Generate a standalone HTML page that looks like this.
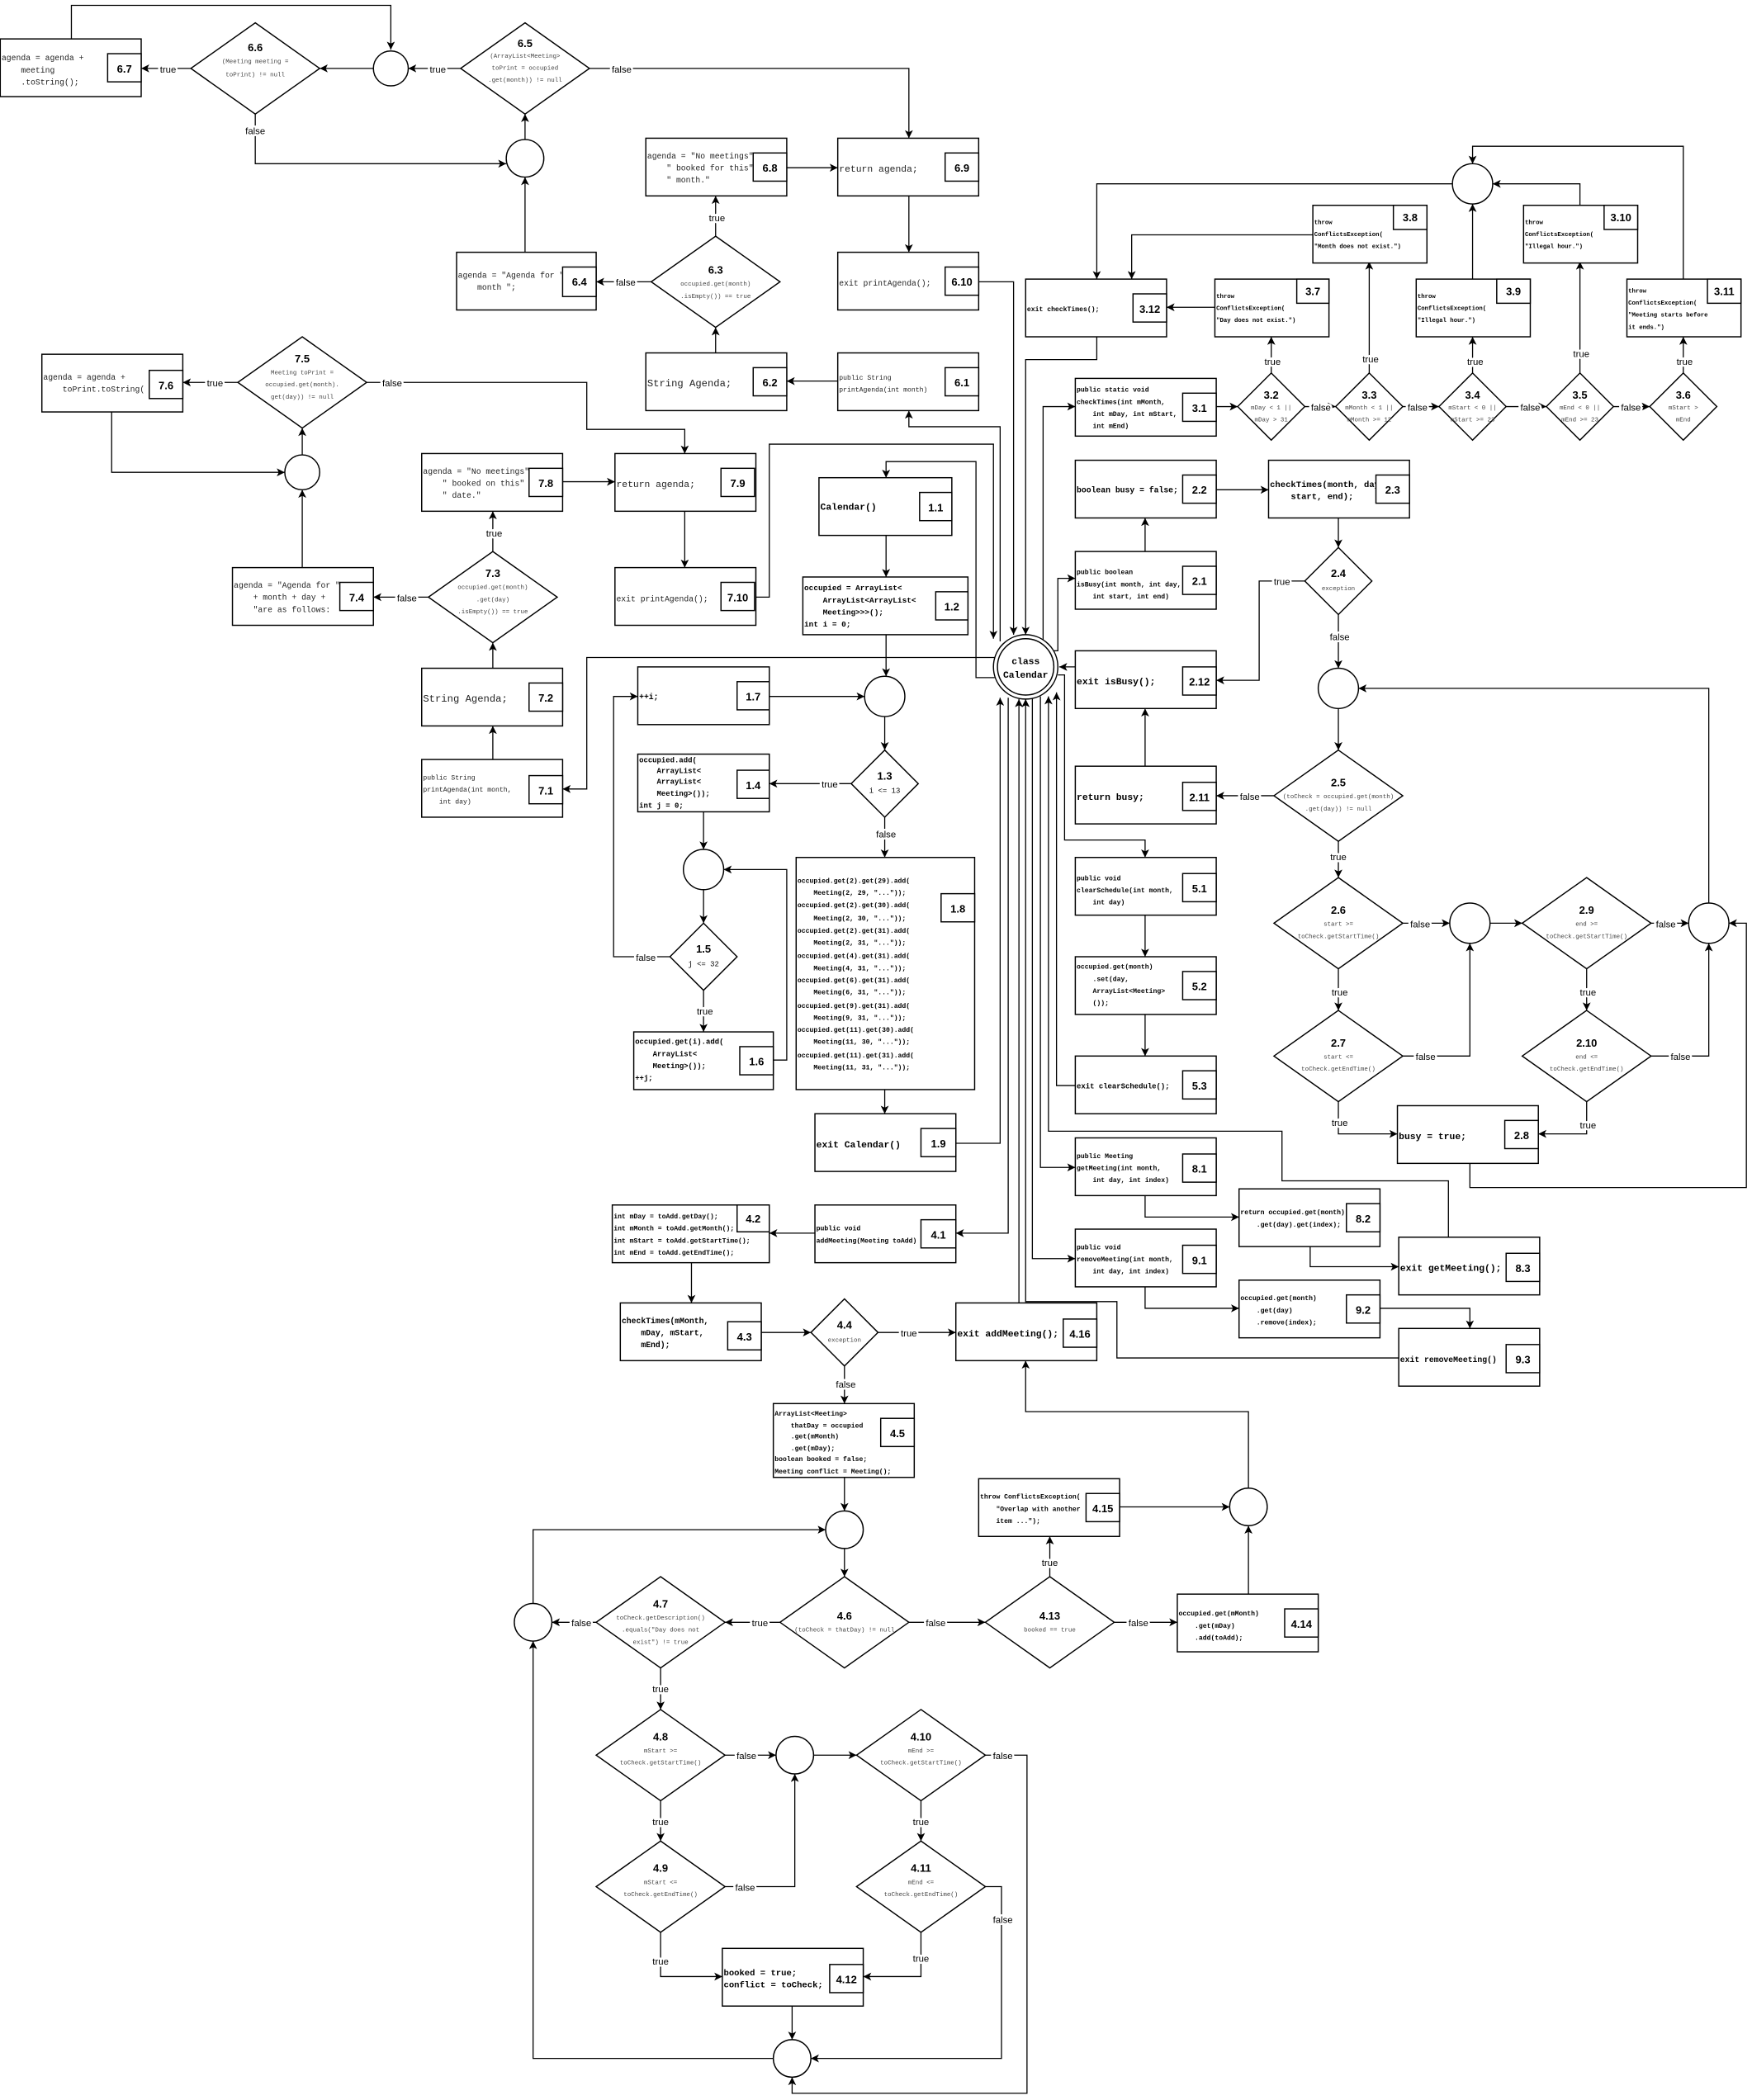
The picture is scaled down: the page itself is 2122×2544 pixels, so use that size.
<!DOCTYPE html>
<html><head><meta charset="utf-8"><style>
html,body{margin:0;padding:0;background:#fff}
svg{display:block}
text{white-space:pre}
.b{fill:#fff;stroke:#000;stroke-width:0.9}
.e{fill:none;stroke:#000;stroke-width:0.8;marker-end:url(#a)}
.n{fill:none;stroke:#000;stroke-width:0.8}
.c{font-family:"Liberation Mono",monospace;font-size:6px;fill:#222}
.cb{font-family:"Liberation Mono",monospace;font-size:5px;font-weight:bold;fill:#000}
.cB{font-family:"Liberation Mono",monospace;font-size:7px;font-weight:bold;fill:#000}
.l{font-family:"Liberation Sans",sans-serif;font-size:8px;font-weight:bold;text-anchor:middle}
.d{font-family:"Liberation Mono",monospace;font-size:4.6px;fill:#444;text-anchor:middle}
.t{font-family:"Liberation Sans",sans-serif;font-size:7px;text-anchor:middle;stroke:#fff;stroke-width:3;paint-order:stroke;fill:#000}
</style></head><body>
<svg width="2122" height="2544" viewBox="0 0 1305 1565" xmlns="http://www.w3.org/2000/svg" xml:space="preserve">
<defs><marker id="a" markerWidth="6" markerHeight="6" refX="6" refY="3" orient="auto" markerUnits="userSpaceOnUse"><path d="M0,0 L6,3 L0,6 L1.5,3z" fill="#000"/></marker></defs>
<rect width="1305" height="1565" fill="#fff"/>

<!-- section 6 -->
<path class="e" d="M53,29 V4 H291 V37"/>
<path class="e" d="M278,51 H238"/>
<path class="e" d="M343,51 H304"/>
<path class="e" d="M142,51 H105"/>
<path class="e" d="M190,85 V122 H377"/>
<path class="e" d="M391,188 V132"/>
<path class="e" d="M391,104 V85"/>
<path class="e" d="M439,51 H677 V103"/>
<path class="e" d="M586,125 H624"/>
<path class="e" d="M677,146 V188"/>
<path class="e" d="M533,176 V146"/>
<path class="e" d="M485,210 H444"/>
<path class="e" d="M533,263 V244"/>
<path class="e" d="M624,284 H586"/>
<path class="e" d="M745,478 V318 H677 V306"/>
<path class="e" d="M729,210 H755 V473"/>
<!-- section 7 -->
<path class="e" d="M177,285 H136"/>
<path class="e" d="M83,307 V352 H212"/>
<path class="e" d="M225,339 V319"/>
<path class="e" d="M273,285 H437 V320 H510 V338"/>
<path class="e" d="M225,423 V365"/>
<path class="e" d="M419,359 H458"/>
<path class="e" d="M510,381 V423"/>
<path class="e" d="M367,411 V381"/>
<path class="e" d="M319,445 H278"/>
<path class="e" d="M367,498 V479"/>
<path class="e" d="M367,566 V541"/>
<path class="e" d="M563,445 H573 V331 H740 V476"/>
<path class="e" d="M741,490 H437 V588 H419"/>
<!-- section 1 -->
<path class="e" d="M741,505 H727 V344 H660 V356"/>
<path class="e" d="M660,399 V430"/>
<path class="e" d="M660,473 V504"/>
<path class="e" d="M573,519 H644"/>
<path class="e" d="M659,534 V559"/>
<path class="e" d="M634,584 H573"/>
<path class="e" d="M524,605 V633"/>
<path class="e" d="M524,663 V688"/>
<path class="e" d="M499,713 H457 V519 H475"/>
<path class="e" d="M524,738 V769"/>
<path class="e" d="M576,790 H586 V648 H539"/>
<path class="e" d="M659,609 V639"/>
<path class="e" d="M659,812 V830"/>
<path class="e" d="M712,852 H745 V520"/>
<!-- section 4 -->
<path class="e" d="M751,520 V919 H712"/>
<path class="e" d="M607,919 H573"/>
<path class="e" d="M515,941 V971"/>
<path class="e" d="M567,993 H604"/>
<path class="e" d="M654,993 H712"/>
<path class="e" d="M759,971 V521"/>
<path class="e" d="M629,1018 V1046"/>
<path class="e" d="M629,1101 V1126"/>
<path class="e" d="M629,1154 V1175"/>
<path class="e" d="M581,1209 H540"/>
<path class="e" d="M444,1209 H411"/>
<path class="e" d="M397,1195 V1140 H615"/>
<path class="e" d="M492,1243 V1274"/>
<path class="e" d="M540,1308 H578"/>
<path class="e" d="M606,1308 H638"/>
<path class="e" d="M734,1308 H765 V1560 H590 V1548"/>
<path class="e" d="M492,1342 V1372"/>
<path class="e" d="M540,1406 H592 V1322"/>
<path class="e" d="M492,1440 V1473 H538"/>
<path class="e" d="M686,1342 V1372"/>
<path class="e" d="M686,1440 V1473 H643"/>
<path class="e" d="M734,1406 H746 V1534 H604"/>
<path class="e" d="M590,1495 V1520"/>
<path class="e" d="M576,1534 H397 V1223"/>
<path class="e" d="M677,1209 H734"/>
<path class="e" d="M782,1175 V1145"/>
<path class="e" d="M830,1209 H877"/>
<path class="e" d="M930,1188 V1137"/>
<path class="e" d="M834,1123 H916"/>
<path class="e" d="M930,1109 V1052 H764 V1014"/>
<!-- section 2 -->
<path class="e" d="M853,411 V386"/>
<path class="e" d="M906,365 H945"/>
<path class="e" d="M997,386 V408"/>
<path class="e" d="M972,433 H938 V507 H906"/>
<path class="e" d="M997,458 V498"/>
<path class="e" d="M997,528 V559"/>
<path class="e" d="M949,593 H906"/>
<path class="e" d="M853,571 V528"/>
<path class="e" d="M801,497 H789"/>
<path class="e" d="M997,627 V654"/>
<path class="e" d="M1045,688 H1080"/>
<path class="e" d="M1110,688 H1134"/>
<path class="e" d="M1230,688 H1258"/>
<path class="e" d="M1273,673 V513 H1012"/>
<path class="e" d="M997,722 V753"/>
<path class="e" d="M1045,787 H1095 V703"/>
<path class="e" d="M997,821 V845 H1041"/>
<path class="e" d="M1182,722 V753"/>
<path class="e" d="M1230,787 H1273 V703"/>
<path class="e" d="M1182,821 V845 H1146"/>
<path class="e" d="M1095,867 V885 H1301 V688 H1288"/>
<path class="e" d="M785,485 H788 V431 H801"/>
<!-- section 3 -->
<path class="e" d="M777,478 V303 H801"/>
<path class="e" d="M906,303 H922"/>
<path class="e" d="M972,303 H995"/>
<path class="e" d="M1045,303 H1072"/>
<path class="e" d="M1122,303 H1152"/>
<path class="e" d="M1202,303 H1229"/>
<path class="e" d="M947,278 V251"/>
<path class="e" d="M1020,278 V195"/>
<path class="e" d="M1097,278 V251"/>
<path class="e" d="M1177,278 V195"/>
<path class="e" d="M1254,278 V251"/>
<path class="e" d="M905,229 H869"/>
<path class="e" d="M978,175 H843 V208"/>
<path class="e" d="M1097,208 V152"/>
<path class="e" d="M1177,153 V137 H1112"/>
<path class="e" d="M1254,208 V109 H1097 V122"/>
<path class="e" d="M1082,137 H817 V208"/>
<path class="e" d="M817,251 V268 H764 V473"/>
<!-- section 5 -->
<path class="e" d="M788,503 H793 V626 H853 V639"/>
<path class="e" d="M853,682 V713"/>
<path class="e" d="M853,756 V787"/>
<path class="e" d="M801,809 H787 V516"/>
<!-- section 8 -->
<path class="e" d="M775,519 V870 H801"/>
<path class="e" d="M853,891 V907 H923"/>
<path class="e" d="M976,929 V944 H1042"/>
<path class="e" d="M1079,922 V880 H955 V843 H781 V519"/>
<!-- section 9 -->
<path class="e" d="M769,520 V938 H801"/>
<path class="e" d="M853,959 V975 H923"/>
<path class="e" d="M1028,975 H1095 V990"/>
<path class="e" d="M1042,1012 H832 V970 H764 V521"/>

<!-- class Calendar -->
<circle cx="764" cy="497" r="24" class="b"/><circle cx="764" cy="497" r="21" class="b"/>
<text class="cB" x="764" y="495" text-anchor="middle">class</text>
<text class="cB" x="764" y="505" text-anchor="middle">Calendar</text>

<circle cx="291" cy="51" r="13" class="b"/>
<circle cx="391" cy="118" r="14" class="b"/>
<circle cx="225" cy="352" r="13" class="b"/>
<circle cx="659" cy="519" r="15" class="b"/>
<circle cx="524" cy="648" r="15" class="b"/>
<circle cx="629" cy="1140" r="14" class="b"/>
<circle cx="397" cy="1209" r="14" class="b"/>
<circle cx="592" cy="1308" r="14" class="b"/>
<circle cx="590" cy="1534" r="14" class="b"/>
<circle cx="930" cy="1123" r="14" class="b"/>
<circle cx="997" cy="513" r="15" class="b"/>
<circle cx="1095" cy="688" r="15" class="b"/>
<circle cx="1273" cy="688" r="15" class="b"/>
<circle cx="1097" cy="137" r="15" class="b"/>

<!-- 6.x -->
<rect class="b" x="0" y="29" width="105" height="43"/>
<text class="c" x="1" y="45">agenda = agenda +</text><text class="c" x="1" y="54">    meeting</text><text class="c" x="1" y="63">    .toString();</text>
<rect class="b" x="80" y="40" width="25" height="21"/><text class="l" x="92.5" y="54">6.7</text>

<polygon class="b" points="190,17 238,51 190,85 142,51"/>
<text class="l" x="190" y="38">6.6</text><text class="d" x="190" y="47">(Meeting meeting =</text><text class="d" x="190" y="57">toPrint) != null</text>

<polygon class="b" points="391,17 439,51 391,85 343,51"/>
<text class="l" x="391" y="35">6.5</text><text class="d" x="391" y="43">(ArrayList&lt;Meeting&gt;</text><text class="d" x="391" y="52">toPrint = occupied</text><text class="d" x="391" y="61">.get(month)) != null</text>

<rect class="b" x="340" y="188" width="104" height="43"/>
<text class="c" x="341" y="207">agenda = "Agenda for "</text><text class="c" x="341" y="216">    month ";</text>
<rect class="b" x="419" y="199" width="25" height="22"/><text class="l" x="431.5" y="213">6.4</text>

<rect class="b" x="481" y="103" width="105" height="43"/>
<text class="c" x="482" y="118">agenda = "No meetings"</text><text class="c" x="482" y="127">    " booked for this"</text><text class="c" x="482" y="136">    " month."</text>
<rect class="b" x="561" y="114" width="25" height="21"/><text class="l" x="573.5" y="128">6.8</text>

<rect class="b" x="624" y="103" width="105" height="43"/>
<text class="c" x="625" y="128" style="font-size:7px">return agenda;</text>
<rect class="b" x="704" y="114" width="25" height="21"/><text class="l" x="716.5" y="128">6.9</text>

<rect class="b" x="624" y="188" width="105" height="43"/>
<text class="c" x="625" y="213">exit printAgenda();</text>
<rect class="b" x="704" y="199" width="25" height="21"/><text class="l" x="716.5" y="213">6.10</text>

<polygon class="b" points="533,176 581,210 533,244 485,210"/>
<text class="l" x="533" y="204">6.3</text><text class="d" x="533" y="213">occupied.get(month)</text><text class="d" x="533" y="222">.isEmpty()) == true</text>

<rect class="b" x="481" y="263" width="105" height="43"/>
<text class="c" x="482" y="288" style="font-size:7.5px">String Agenda;</text>
<rect class="b" x="561" y="274" width="25" height="21"/><text class="l" x="573.5" y="288">6.2</text>

<rect class="b" x="624" y="263" width="105" height="43"/>
<text class="c" x="625" y="283" style="font-size:5px">public String</text><text class="c" x="625" y="292" style="font-size:5px">printAgenda(int month)</text>
<rect class="b" x="704" y="274" width="25" height="21"/><text class="l" x="716.5" y="288">6.1</text>

<!-- 7.x -->
<rect class="b" x="31" y="264" width="105" height="43"/>
<text class="c" x="32" y="283">agenda = agenda +</text><text class="c" x="32" y="292">    toPrint.toString(</text>
<rect class="b" x="111" y="276" width="25" height="21"/><text class="l" x="123.5" y="290">7.6</text>

<polygon class="b" points="225,251 273,285 225,319 177,285"/>
<text class="l" x="225" y="270">7.5</text><text class="d" x="225" y="279">Meeting toPrint =</text><text class="d" x="225" y="288">occupied.get(month).</text><text class="d" x="225" y="297">get(day)) != null</text>

<rect class="b" x="173" y="423" width="105" height="43"/>
<text class="c" x="174" y="438">agenda = "Agenda for "</text><text class="c" x="174" y="447">    + month + day +</text><text class="c" x="174" y="456">    "are as follows:</text>
<rect class="b" x="253" y="434" width="25" height="21"/><text class="l" x="265.5" y="448">7.4</text>

<rect class="b" x="314" y="338" width="105" height="43"/>
<text class="c" x="315" y="353">agenda = "No meetings"</text><text class="c" x="315" y="362">    " booked on this"</text><text class="c" x="315" y="371">    " date."</text>
<rect class="b" x="394" y="349" width="25" height="21"/><text class="l" x="406.5" y="363">7.8</text>

<rect class="b" x="458" y="338" width="105" height="43"/>
<text class="c" x="459" y="363" style="font-size:7px">return agenda;</text>
<rect class="b" x="537" y="349" width="25" height="21"/><text class="l" x="549.5" y="363">7.9</text>

<rect class="b" x="458" y="423" width="105" height="43"/>
<text class="c" x="459" y="448">exit printAgenda();</text>
<rect class="b" x="537" y="434" width="25" height="21"/><text class="l" x="549.5" y="448">7.10</text>

<polygon class="b" points="367,411 415,445 367,479 319,445"/>
<text class="l" x="367" y="430">7.3</text><text class="d" x="367" y="439">occupied.get(month)</text><text class="d" x="367" y="448">.get(day)</text><text class="d" x="367" y="457">.isEmpty()) == true</text>

<rect class="b" x="314" y="498" width="105" height="43"/>
<text class="c" x="315" y="523" style="font-size:7.5px">String Agenda;</text>
<rect class="b" x="394" y="509" width="25" height="21"/><text class="l" x="406.5" y="523">7.2</text>

<rect class="b" x="314" y="566" width="105" height="43"/>
<text class="c" x="315" y="581" style="font-size:5px">public String</text><text class="c" x="315" y="590" style="font-size:5px">printAgenda(int month,</text><text class="c" x="315" y="599" style="font-size:5px">    int day)</text>
<rect class="b" x="394" y="578" width="25" height="21"/><text class="l" x="406.5" y="592">7.1</text>

<!-- 1.x -->
<rect class="b" x="610" y="356" width="99" height="43"/>
<text class="cB" x="611" y="380">Calendar()</text>
<rect class="b" x="685" y="367" width="24" height="21"/><text class="l" x="697" y="381">1.1</text>

<rect class="b" x="598" y="430" width="123" height="43"/>
<text class="cb" x="599" y="440" style="font-size:5.8px">occupied = ArrayList&lt;</text><text class="cb" x="599" y="449" style="font-size:5.8px">    ArrayList&lt;ArrayList&lt;</text><text class="cb" x="599" y="458" style="font-size:5.8px">    Meeting&gt;&gt;&gt;();</text><text class="cb" x="599" y="467" style="font-size:5.8px">int i = 0;</text>
<rect class="b" x="697" y="441" width="24" height="21"/><text class="l" x="709" y="455">1.2</text>

<rect class="b" x="475" y="497" width="98" height="43"/>
<text class="cb" x="476" y="521" style="font-size:6px">++i;</text>
<rect class="b" x="549" y="508" width="24" height="21"/><text class="l" x="561" y="522">1.7</text>

<polygon class="b" points="659,559 684,584 659,609 634,584"/>
<text class="l" x="659" y="581">1.3</text><text class="d" x="659" y="591" style="font-size:5.5px;fill:#000">i &lt;= 13</text>

<rect class="b" x="475" y="562" width="98" height="43"/>
<text class="cb" x="476" y="568" style="font-size:5.5px">occupied.add(</text><text class="cb" x="476" y="576" style="font-size:5.5px">    ArrayList&lt;</text><text class="cb" x="476" y="584" style="font-size:5.5px">    ArrayList&lt;</text><text class="cb" x="476" y="593" style="font-size:5.5px">    Meeting&gt;());</text><text class="cb" x="476" y="602" style="font-size:5.5px">int j = 0;</text>
<rect class="b" x="549" y="574" width="24" height="21"/><text class="l" x="561" y="588">1.4</text>

<polygon class="b" points="524,688 549,713 524,738 499,713"/>
<text class="l" x="524" y="710">1.5</text><text class="d" x="524" y="720" style="font-size:5.5px;fill:#000">j &lt;= 32</text>

<rect class="b" x="472" y="769" width="104" height="43"/>
<text class="cb" x="473" y="778" style="font-size:5.5px">occupied.get(i).add(</text><text class="cb" x="473" y="787" style="font-size:5.5px">    ArrayList&lt;</text><text class="cb" x="473" y="796" style="font-size:5.5px">    Meeting&gt;());</text><text class="cb" x="473" y="805" style="font-size:5.5px">++j;</text>
<rect class="b" x="551" y="780" width="25" height="21"/><text class="l" x="563.5" y="794">1.6</text>

<rect class="b" x="593" y="639" width="133" height="173"/>
<text class="cb" x="594" y="658">occupied.get(2).get(29).add(</text>
<text class="cb" x="594" y="667">    Meeting(2, 29, "..."));</text>
<text class="cb" x="594" y="676">occupied.get(2).get(30).add(</text>
<text class="cb" x="594" y="686">    Meeting(2, 30, "..."));</text>
<text class="cb" x="594" y="695">occupied.get(2).get(31).add(</text>
<text class="cb" x="594" y="704">    Meeting(2, 31, "..."));</text>
<text class="cb" x="594" y="714">occupied.get(4).get(31).add(</text>
<text class="cb" x="594" y="723">    Meeting(4, 31, "..."));</text>
<text class="cb" x="594" y="732">occupied.get(6).get(31).add(</text>
<text class="cb" x="594" y="741">    Meeting(6, 31, "..."));</text>
<text class="cb" x="594" y="751">occupied.get(9).get(31).add(</text>
<text class="cb" x="594" y="760">    Meeting(9, 31, "..."));</text>
<text class="cb" x="594" y="769">occupied.get(11).get(30).add(</text>
<text class="cb" x="594" y="778">    Meeting(11, 30, "..."));</text>
<text class="cb" x="594" y="788">occupied.get(11).get(31).add(</text>
<text class="cb" x="594" y="797">    Meeting(11, 31, "..."));</text>
<rect class="b" x="701" y="666" width="25" height="21"/><text class="l" x="713.5" y="680">1.8</text>

<rect class="b" x="607" y="830" width="105" height="43"/>
<text class="cB" x="608" y="855">exit Calendar()</text>
<rect class="b" x="686" y="841" width="26" height="21"/><text class="l" x="699" y="855">1.9</text>

<!-- 4.x -->
<rect class="b" x="607" y="898" width="105" height="43"/>
<text class="cb" x="608" y="917">public void</text><text class="cb" x="608" y="926">addMeeting(Meeting toAdd)</text>
<rect class="b" x="686" y="909" width="26" height="21"/><text class="l" x="699" y="923">4.1</text>

<rect class="b" x="456" y="898" width="117" height="43"/>
<text class="cb" x="457" y="908">int mDay = toAdd.getDay();</text><text class="cb" x="457" y="917">int mMonth = toAdd.getMonth();</text><text class="cb" x="457" y="926">int mStart = toAdd.getStartTime();</text><text class="cb" x="457" y="935">int mEnd = toAdd.getEndTime();</text>
<rect class="b" x="549" y="898" width="24" height="20"/><text class="l" x="561" y="911">4.2</text>

<rect class="b" x="462" y="971" width="105" height="43"/>
<text class="cb" x="463" y="986" style="font-size:6px">checkTimes(mMonth,</text><text class="cb" x="463" y="995" style="font-size:6px">    mDay, mStart,</text><text class="cb" x="463" y="1004" style="font-size:6px">    mEnd);</text>
<rect class="b" x="542" y="985" width="25" height="21"/><text class="l" x="554.5" y="999">4.3</text>

<polygon class="b" points="629,968 654,993 629,1018 604,993"/>
<text class="l" x="629" y="990">4.4</text><text class="d" x="629" y="1000">exception</text>

<rect class="b" x="712" y="971" width="105" height="43"/>
<text class="cB" x="713" y="996">exit addMeeting();</text>
<rect class="b" x="792" y="983" width="25" height="21"/><text class="l" x="804.5" y="997">4.16</text>

<rect class="b" x="576" y="1046" width="105" height="55"/>
<text class="cb" x="577" y="1055">ArrayList&lt;Meeting&gt;</text><text class="cb" x="577" y="1064">    thatDay = occupied</text><text class="cb" x="577" y="1072">    .get(mMonth)</text><text class="cb" x="577" y="1081">    .get(mDay);</text><text class="cb" x="577" y="1089">boolean booked = false;</text><text class="cb" x="577" y="1098">Meeting conflict = Meeting();</text>
<rect class="b" x="656" y="1057" width="25" height="21"/><text class="l" x="668.5" y="1071">4.5</text>

<polygon class="b" points="629,1175 677,1209 629,1243 581,1209"/>
<text class="l" x="629" y="1207">4.6</text><text class="d" x="629" y="1216">(toCheck = thatDay) != null</text>

<polygon class="b" points="492,1175 540,1209 492,1243 444,1209"/>
<text class="l" x="492" y="1198">4.7</text><text class="d" x="492" y="1207">toCheck.getDescription()</text><text class="d" x="492" y="1216">.equals("Day does not</text><text class="d" x="492" y="1225">exist") != true</text>

<polygon class="b" points="492,1274 540,1308 492,1342 444,1308"/>
<text class="l" x="492" y="1297">4.8</text><text class="d" x="492" y="1306">mStart &gt;=</text><text class="d" x="492" y="1315">toCheck.getStartTime()</text>

<polygon class="b" points="686,1274 734,1308 686,1342 638,1308"/>
<text class="l" x="686" y="1297">4.10</text><text class="d" x="686" y="1306">mEnd &gt;=</text><text class="d" x="686" y="1315">toCheck.getStartTime()</text>

<polygon class="b" points="492,1372 540,1406 492,1440 444,1406"/>
<text class="l" x="492" y="1395">4.9</text><text class="d" x="492" y="1404">mStart &lt;=</text><text class="d" x="492" y="1413">toCheck.getEndTime()</text>

<polygon class="b" points="686,1372 734,1406 686,1440 638,1406"/>
<text class="l" x="686" y="1395">4.11</text><text class="d" x="686" y="1404">mEnd &lt;=</text><text class="d" x="686" y="1413">toCheck.getEndTime()</text>

<rect class="b" x="538" y="1452" width="105" height="43"/>
<text class="cb" x="539" y="1472" style="font-size:6.5px">booked = true;</text><text class="cb" x="539" y="1481" style="font-size:6.5px">conflict = toCheck;</text>
<rect class="b" x="618" y="1464" width="25" height="21"/><text class="l" x="630.5" y="1478">4.12</text>

<polygon class="b" points="782,1175 830,1209 782,1243 734,1209"/>
<text class="l" x="782" y="1207">4.13</text><text class="d" x="782" y="1216">booked == true</text>

<rect class="b" x="729" y="1102" width="105" height="43"/>
<text class="cb" x="730" y="1117">throw ConflictsException(</text><text class="cb" x="730" y="1126">    "Overlap with another</text><text class="cb" x="730" y="1135">    item ...");</text>
<rect class="b" x="809" y="1113" width="25" height="21"/><text class="l" x="821.5" y="1127">4.15</text>

<rect class="b" x="877" y="1188" width="105" height="43"/>
<text class="cb" x="878" y="1204">occupied.get(mMonth)</text><text class="cb" x="878" y="1213">    .get(mDay)</text><text class="cb" x="878" y="1222">    .add(toAdd);</text>
<rect class="b" x="957" y="1199" width="25" height="21"/><text class="l" x="969.5" y="1213">4.14</text>

<!-- 2.x -->
<rect class="b" x="801" y="343" width="105" height="43"/>
<text class="cb" x="802" y="367" style="font-size:6px">boolean busy = false;</text>
<rect class="b" x="881" y="354" width="25" height="21"/><text class="l" x="893.5" y="368">2.2</text>

<rect class="b" x="801" y="411" width="105" height="43"/>
<text class="cb" x="802" y="428">public boolean</text><text class="cb" x="802" y="437">isBusy(int month, int day,</text><text class="cb" x="802" y="446">    int start, int end)</text>
<rect class="b" x="881" y="422" width="25" height="21"/><text class="l" x="893.5" y="436">2.1</text>

<rect class="b" x="945" y="343" width="105" height="43"/>
<text class="cb" x="946" y="363" style="font-size:6.5px">checkTimes(month, day,</text><text class="cb" x="946" y="372" style="font-size:6.5px">    start, end);</text>
<rect class="b" x="1025" y="354" width="25" height="21"/><text class="l" x="1037.5" y="368">2.3</text>

<polygon class="b" points="997,408 1022,433 997,458 972,433"/>
<text class="l" x="997" y="430">2.4</text><text class="d" x="997" y="440">exception</text>

<rect class="b" x="801" y="485" width="105" height="43"/>
<text class="cB" x="802" y="510">exit isBusy();</text>
<rect class="b" x="881" y="497" width="25" height="21"/><text class="l" x="893.5" y="511">2.12</text>

<polygon class="b" points="997,559 1045,593 997,627 949,593"/>
<text class="l" x="997" y="586">2.5</text><text class="d" x="997" y="595">(toCheck = occupied.get(month)</text><text class="d" x="997" y="604">.get(day)) != null</text>

<rect class="b" x="801" y="571" width="105" height="43"/>
<text class="cB" x="802" y="596">return busy;</text>
<rect class="b" x="881" y="583" width="25" height="21"/><text class="l" x="893.5" y="597">2.11</text>

<polygon class="b" points="997,654 1045,688 997,722 949,688"/>
<text class="l" x="997" y="681">2.6</text><text class="d" x="997" y="690">start &gt;=</text><text class="d" x="997" y="699">toCheck.getStartTime()</text>

<polygon class="b" points="1182,654 1230,688 1182,722 1134,688"/>
<text class="l" x="1182" y="681">2.9</text><text class="d" x="1182" y="690">end &gt;=</text><text class="d" x="1182" y="699">toCheck.getStartTime()</text>

<polygon class="b" points="997,753 1045,787 997,821 949,787"/>
<text class="l" x="997" y="780">2.7</text><text class="d" x="997" y="789">start &lt;=</text><text class="d" x="997" y="798">toCheck.getEndTime()</text>

<polygon class="b" points="1182,753 1230,787 1182,821 1134,787"/>
<text class="l" x="1182" y="780">2.10</text><text class="d" x="1182" y="789">end &lt;=</text><text class="d" x="1182" y="798">toCheck.getEndTime()</text>

<rect class="b" x="1041" y="824" width="105" height="43"/>
<text class="cB" x="1042" y="849">busy = true;</text>
<rect class="b" x="1121" y="835" width="25" height="21"/><text class="l" x="1133.5" y="849">2.8</text>

<!-- 3.x -->
<rect class="b" x="801" y="282" width="105" height="43"/>
<text class="cb" x="802" y="292">public static void</text><text class="cb" x="802" y="301">checkTimes(int mMonth,</text><text class="cb" x="802" y="310">    int mDay, int mStart,</text><text class="cb" x="802" y="319">    int mEnd)</text>
<rect class="b" x="881" y="293" width="25" height="21"/><text class="l" x="893.5" y="307">3.1</text>

<polygon class="b" points="947,278 972,303 947,328 922,303"/>
<text class="l" x="947" y="297">3.2</text><text class="d" x="947" y="305">mDay &lt; 1 ||</text><text class="d" x="947" y="314">mDay &gt; 31</text>
<polygon class="b" points="1020,278 1045,303 1020,328 995,303"/>
<text class="l" x="1020" y="297">3.3</text><text class="d" x="1020" y="305">mMonth &lt; 1 ||</text><text class="d" x="1020" y="314">mMonth &gt;= 12</text>
<polygon class="b" points="1097,278 1122,303 1097,328 1072,303"/>
<text class="l" x="1097" y="297">3.4</text><text class="d" x="1097" y="305">mStart &lt; 0 ||</text><text class="d" x="1097" y="314">mStart &gt;= 23</text>
<polygon class="b" points="1177,278 1202,303 1177,328 1152,303"/>
<text class="l" x="1177" y="297">3.5</text><text class="d" x="1177" y="305">mEnd &lt; 0 ||</text><text class="d" x="1177" y="314">mEnd &gt;= 23</text>
<polygon class="b" points="1254,278 1279,303 1254,328 1229,303"/>
<text class="l" x="1254" y="297">3.6</text><text class="d" x="1254" y="305">mStart &gt;</text><text class="d" x="1254" y="314">mEnd</text>

<rect class="b" x="905" y="208" width="85" height="43"/>
<text class="cb" x="906" y="222" style="font-size:4.5px">throw</text><text class="cb" x="906" y="231" style="font-size:4.5px">ConflictsException(</text><text class="cb" x="906" y="240" style="font-size:4.5px">"Day does not exist.")</text>
<rect class="b" x="966" y="208" width="24" height="18"/><text class="l" x="978" y="220">3.7</text>

<rect class="b" x="978" y="153" width="85" height="43"/>
<text class="cb" x="979" y="167" style="font-size:4.5px">throw</text><text class="cb" x="979" y="176" style="font-size:4.5px">ConflictsException(</text><text class="cb" x="979" y="185" style="font-size:4.5px">"Month does not exist.")</text>
<rect class="b" x="1038" y="153" width="25" height="18"/><text class="l" x="1050.5" y="165">3.8</text>

<rect class="b" x="1055" y="208" width="85" height="43"/>
<text class="cb" x="1056" y="222" style="font-size:4.5px">throw</text><text class="cb" x="1056" y="231" style="font-size:4.5px">ConflictsException(</text><text class="cb" x="1056" y="240" style="font-size:4.5px">"Illegal hour.")</text>
<rect class="b" x="1115" y="208" width="25" height="18"/><text class="l" x="1127.5" y="220">3.9</text>

<rect class="b" x="1135" y="153" width="85" height="43"/>
<text class="cb" x="1136" y="167" style="font-size:4.5px">throw</text><text class="cb" x="1136" y="176" style="font-size:4.5px">ConflictsException(</text><text class="cb" x="1136" y="185" style="font-size:4.5px">"Illegal hour.")</text>
<rect class="b" x="1195" y="153" width="25" height="18"/><text class="l" x="1207.5" y="165">3.10</text>

<rect class="b" x="1212" y="208" width="85" height="43"/>
<text class="cb" x="1213" y="218" style="font-size:4.5px">throw</text><text class="cb" x="1213" y="227" style="font-size:4.5px">ConflictsException(</text><text class="cb" x="1213" y="236" style="font-size:4.5px">"Meeting starts before</text><text class="cb" x="1213" y="245" style="font-size:4.5px">it ends.")</text>
<rect class="b" x="1272" y="208" width="25" height="18"/><text class="l" x="1284.5" y="220">3.11</text>

<rect class="b" x="764" y="208" width="105" height="43"/>
<text class="cb" x="765" y="232">exit checkTimes();</text>
<rect class="b" x="844" y="219" width="25" height="21"/><text class="l" x="856.5" y="233">3.12</text>

<!-- 5.x -->
<rect class="b" x="801" y="639" width="105" height="43"/>
<text class="cb" x="802" y="656">public void</text><text class="cb" x="802" y="665">clearSchedule(int month,</text><text class="cb" x="802" y="674">    int day)</text>
<rect class="b" x="881" y="651" width="25" height="21"/><text class="l" x="893.5" y="665">5.1</text>

<rect class="b" x="801" y="713" width="105" height="43"/>
<text class="cb" x="802" y="722">occupied.get(month)</text><text class="cb" x="802" y="731">    .set(day,</text><text class="cb" x="802" y="740">    ArrayList&lt;Meeting&gt;</text><text class="cb" x="802" y="749">    ());</text>
<rect class="b" x="881" y="724" width="25" height="21"/><text class="l" x="893.5" y="738">5.2</text>

<rect class="b" x="801" y="787" width="105" height="43"/>
<text class="cb" x="802" y="811" style="font-size:5.5px">exit clearSchedule();</text>
<rect class="b" x="881" y="798" width="25" height="21"/><text class="l" x="893.5" y="812">5.3</text>

<!-- 8.x -->
<rect class="b" x="801" y="848" width="105" height="43"/>
<text class="cb" x="802" y="863">public Meeting</text><text class="cb" x="802" y="872">getMeeting(int month,</text><text class="cb" x="802" y="881">    int day, int index)</text>
<rect class="b" x="881" y="860" width="25" height="21"/><text class="l" x="893.5" y="874">8.1</text>

<rect class="b" x="923" y="886" width="105" height="43"/>
<text class="cb" x="924" y="905">return occupied.get(month)</text><text class="cb" x="924" y="914">    .get(day).get(index);</text>
<rect class="b" x="1003" y="897" width="25" height="21"/><text class="l" x="1015.5" y="911">8.2</text>

<rect class="b" x="1042" y="922" width="105" height="43"/>
<text class="cB" x="1043" y="947">exit getMeeting();</text>
<rect class="b" x="1122" y="934" width="25" height="21"/><text class="l" x="1134.5" y="948">8.3</text>

<!-- 9.x -->
<rect class="b" x="801" y="916" width="105" height="43"/>
<text class="cb" x="802" y="931">public void</text><text class="cb" x="802" y="940">removeMeeting(int month,</text><text class="cb" x="802" y="949">    int day, int index)</text>
<rect class="b" x="881" y="928" width="25" height="21"/><text class="l" x="893.5" y="942">9.1</text>

<rect class="b" x="923" y="954" width="105" height="43"/>
<text class="cb" x="924" y="969">occupied.get(month)</text><text class="cb" x="924" y="978">    .get(day)</text><text class="cb" x="924" y="987">    .remove(index);</text>
<rect class="b" x="1003" y="965" width="25" height="21"/><text class="l" x="1015.5" y="979">9.2</text>

<rect class="b" x="1042" y="990" width="105" height="43"/>
<text class="cb" x="1043" y="1015" style="font-size:6px">exit removeMeeting()</text>
<rect class="b" x="1122" y="1002" width="25" height="21"/><text class="l" x="1134.5" y="1016">9.3</text>

<!-- edge labels -->
<text class="t" x="326" y="54">true</text>
<text class="t" x="125" y="54">true</text>
<text class="t" x="190" y="100">false</text>
<text class="t" x="463" y="54">false</text>
<text class="t" x="534" y="165">true</text>
<text class="t" x="466" y="213">false</text>
<text class="t" x="160" y="288">true</text>
<text class="t" x="292" y="288">false</text>
<text class="t" x="368" y="400">true</text>
<text class="t" x="303" y="448">false</text>
<text class="t" x="618" y="587">true</text>
<text class="t" x="481" y="716">false</text>
<text class="t" x="525" y="756">true</text>
<text class="t" x="660" y="624">false</text>
<text class="t" x="677" y="996">true</text>
<text class="t" x="630" y="1034">false</text>
<text class="t" x="566" y="1212">true</text>
<text class="t" x="433" y="1212">false</text>
<text class="t" x="492" y="1261">true</text>
<text class="t" x="556" y="1311">false</text>
<text class="t" x="747" y="1311">false</text>
<text class="t" x="492" y="1360">true</text>
<text class="t" x="555" y="1409">false</text>
<text class="t" x="492" y="1464">true</text>
<text class="t" x="686" y="1360">true</text>
<text class="t" x="686" y="1462">true</text>
<text class="t" x="747" y="1433">false</text>
<text class="t" x="697" y="1212">false</text>
<text class="t" x="782" y="1167">true</text>
<text class="t" x="848" y="1212">false</text>
<text class="t" x="955" y="436">true</text>
<text class="t" x="998" y="477">false</text>
<text class="t" x="931" y="596">false</text>
<text class="t" x="997" y="641">true</text>
<text class="t" x="1058" y="691">false</text>
<text class="t" x="1241" y="691">false</text>
<text class="t" x="998" y="742">true</text>
<text class="t" x="1062" y="790">false</text>
<text class="t" x="998" y="839">true</text>
<text class="t" x="1183" y="742">true</text>
<text class="t" x="1252" y="790">false</text>
<text class="t" x="1183" y="841">true</text>
<text class="t" x="984" y="306">false</text>
<text class="t" x="1056" y="306">false</text>
<text class="t" x="1140" y="306">false</text>
<text class="t" x="1215" y="306">false</text>
<text class="t" x="948" y="272">true</text>
<text class="t" x="1021" y="270">true</text>
<text class="t" x="1099" y="272">true</text>
<text class="t" x="1178" y="266">true</text>
<text class="t" x="1255" y="272">true</text>
</svg>
</body></html>
